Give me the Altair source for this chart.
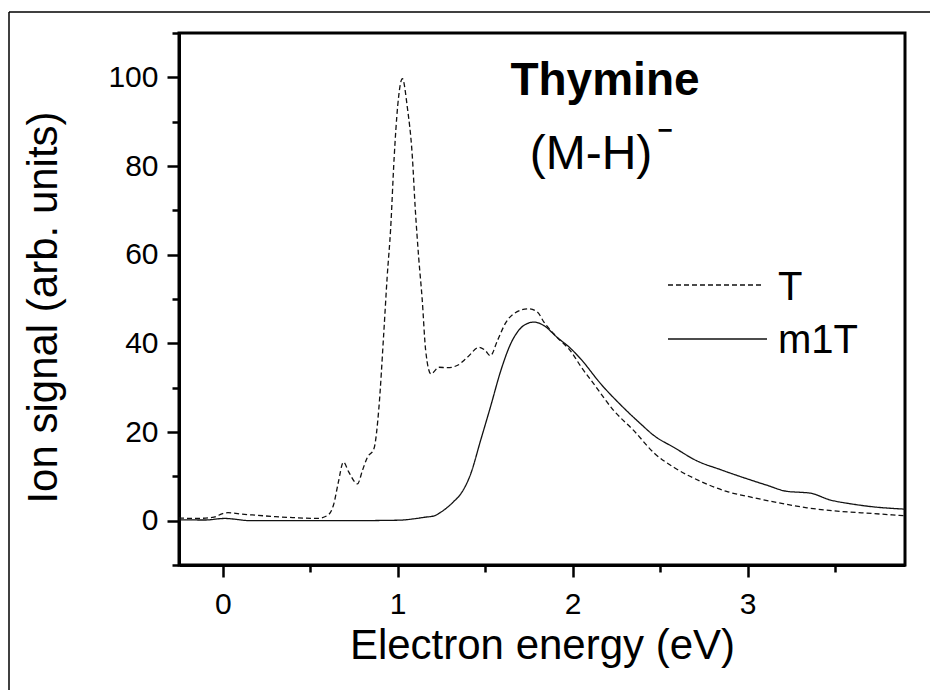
import altair as alt
import pandas as pd

# ---- data ----
SERIES = ["T", "m1T"]

E_T = [-0.25, -0.15, -0.05, 0.0, 0.03, 0.1, 0.2, 0.3, 0.4, 0.54, 0.6, 0.635, 0.66,
       0.69, 0.72, 0.77, 0.8, 0.827, 0.864, 0.893, 0.92, 0.94, 0.96, 0.98, 1.0, 1.027,
       1.055, 1.084, 1.10, 1.12, 1.14, 1.16, 1.19, 1.236, 1.284, 1.34, 1.40, 1.465,
       1.50, 1.53, 1.57, 1.62, 1.665, 1.75, 1.80, 1.836, 1.91, 1.99, 2.05, 2.12, 2.236,
       2.35, 2.47, 2.58, 2.73, 2.88, 3.02, 3.17, 3.34, 3.53, 3.72, 3.9]
S_T = [0.6, 0.5, 0.8, 1.6, 1.8, 1.5, 1.2, 0.9, 0.7, 0.5, 1.2, 3.8, 8.5,
       13.2, 11.0, 8.3, 11.5, 14.3, 16.2, 25.6, 42.0, 55.0, 66.0, 82.0, 93.5, 99.7,
       93.3, 82.0, 70.7, 59.4, 50.0, 38.4, 33.1, 34.6, 34.5, 35.0, 36.9, 39.1,
       38.4, 37.2, 40.6, 44.8, 46.7, 47.8, 47.0, 44.8, 41.4, 38.2, 34.6, 30.9, 24.8,
       20.3, 15.1, 12.0, 8.9, 6.6, 5.3, 4.1, 2.9, 2.1, 1.6, 1.1]

E_M = [-0.25, -0.1, 0.01, 0.16, 0.4, 0.7, 1.0, 1.09, 1.15, 1.21, 1.246, 1.284, 1.32,
       1.36, 1.417, 1.474, 1.53, 1.59, 1.646, 1.70, 1.75, 1.78, 1.836, 1.91, 1.99,
       2.046, 2.16, 2.27, 2.39, 2.465, 2.58, 2.71, 2.846, 3.0, 3.11, 3.227, 3.30,
       3.36, 3.47, 3.59, 3.70, 3.9]
S_M = [0.2, 0.15, 0.5, 0.0, 0.0, 0.0, 0.1, 0.4, 0.75, 1.1, 1.9, 3.0, 4.3,
       6.0, 10.5, 18.1, 25.6, 33.9, 39.9, 43.3, 44.6, 44.8, 44.0, 41.4, 38.8,
       36.5, 30.9, 26.3, 21.8, 19.2, 16.5, 13.5, 11.5, 9.4, 8.0, 6.6, 6.4,
       6.2, 4.7, 3.8, 3.2, 2.6]

X_MAJOR = [0, 1, 2, 3]
X_MINOR = [0.5, 1.5, 2.5, 3.5]
Y_MAJOR = [0, 20, 40, 60, 80, 100]
Y_MINOR = [-10, 10, 30, 50, 70, 90, 110]

TITLE = "Thymine"
SUBTITLE = "(M-H)"
SUPER = "\u2212"
X_TITLE = "Electron energy (eV)"
Y_TITLE = "Ion signal (arb. units)"

df = pd.concat([
    pd.DataFrame({"E": E_T, "S": S_T, "series": SERIES[0]}),
    pd.DataFrame({"E": E_M, "S": S_M, "series": SERIES[1]}),
], ignore_index=True)

FONT = "Liberation Sans"
W, H = 726, 532

xscale = alt.Scale(domain=[-0.25, 3.9], nice=False, zero=False)
yscale = alt.Scale(domain=[-10, 110], nice=False, zero=False)

lines = alt.Chart(df).mark_line(interpolate="monotone", strokeWidth=1.3, color="#111").encode(
    x=alt.X("E:Q", scale=xscale,
            axis=alt.Axis(values=X_MAJOR, title=X_TITLE, orient="bottom", tickSize=12,
                          labelPadding=12, titlePadding=6, format="d")),
    y=alt.Y("S:Q", scale=yscale,
            axis=alt.Axis(values=Y_MAJOR, title=Y_TITLE, orient="left", tickSize=12,
                          labelPadding=9, titlePadding=42, titleY=274, format="d")),
    strokeDash=alt.StrokeDash("series:N", scale=alt.Scale(domain=SERIES, range=[[5, 3], [1, 0]]),
                              legend=None),
)

minor = alt.Chart(df).mark_point(opacity=0).encode(
    x=alt.X("E:Q", scale=xscale,
            axis=alt.Axis(values=X_MINOR, labels=False, tickSize=7, domain=False, title=None,
                          orient="bottom")),
    y=alt.Y("S:Q", scale=yscale,
            axis=alt.Axis(values=Y_MINOR, labels=False, tickSize=7, domain=False, title=None,
                          orient="left")),
)

one = pd.DataFrame({"k": [0]})

t_title = alt.Chart(pd.DataFrame({"t": [TITLE]})).mark_text(
    font=FONT, fontSize=46, fontWeight="bold", align="center", baseline="alphabetic", color="black"
).encode(text="t:N", x=alt.value(426), y=alt.value(62))

t_sub = alt.Chart(pd.DataFrame({"t": [SUBTITLE]})).mark_text(
    font=FONT, fontSize=48, align="center", baseline="alphabetic", color="black"
).encode(text="t:N", x=alt.value(412), y=alt.value(136))

t_sup = alt.Chart(pd.DataFrame({"t": [SUPER]})).mark_text(
    font=FONT, fontSize=26, fontWeight="bold", align="center", baseline="alphabetic", color="black"
).encode(text="t:N", x=alt.value(486), y=alt.value(106))

# legend (hand-drawn)
leg_T_line = alt.Chart(one).mark_rule(strokeWidth=1.3, color="#111", strokeDash=[5, 3]).encode(
    x=alt.value(489), x2=alt.value(584), y=alt.value(252))
leg_M_line = alt.Chart(one).mark_rule(strokeWidth=1.3, color="#111").encode(
    x=alt.value(489), x2=alt.value(588), y=alt.value(306))
leg_T_text = alt.Chart(pd.DataFrame({"t": [SERIES[0]]})).mark_text(
    font=FONT, fontSize=40, align="left", baseline="alphabetic", color="black"
).encode(text="t:N", x=alt.value(599), y=alt.value(267))
leg_M_text = alt.Chart(pd.DataFrame({"t": [SERIES[1]]})).mark_text(
    font=FONT, fontSize=40, align="left", baseline="alphabetic", color="black"
).encode(text="t:N", x=alt.value(599), y=alt.value(320))

# outer frame lines of the figure
frame_top = alt.Chart(one).mark_rule(strokeWidth=1.5, color="black").encode(
    x=alt.value(-170), x2=alt.value(760), y=alt.value(-21))
frame_left = alt.Chart(one).mark_rule(strokeWidth=1.5, color="black").encode(
    x=alt.value(-170), y=alt.value(-21), y2=alt.value(670))

chart = alt.layer(
    lines, minor, t_title, t_sub, t_sup,
    leg_T_line, leg_M_line, leg_T_text, leg_M_text, frame_top, frame_left
).resolve_axis(x="independent", y="independent").properties(
    width=W, height=H,
    background="white",
    autosize=alt.AutoSizeParams(type="none"),
    padding={"left": 179, "top": 33, "right": 25, "bottom": 125},
).configure_view(
    stroke="black", strokeWidth=3
).configure_axis(
    grid=False, domainColor="black", domainWidth=3, tickColor="black", tickWidth=2.5,
    labelFont=FONT, labelFontSize=30, labelColor="black",
    titleFont=FONT, titleFontSize=42, titleFontWeight="normal", titleColor="black",
)

chart.save("out.html", embed_options={"renderer": "svg", "actions": False})
